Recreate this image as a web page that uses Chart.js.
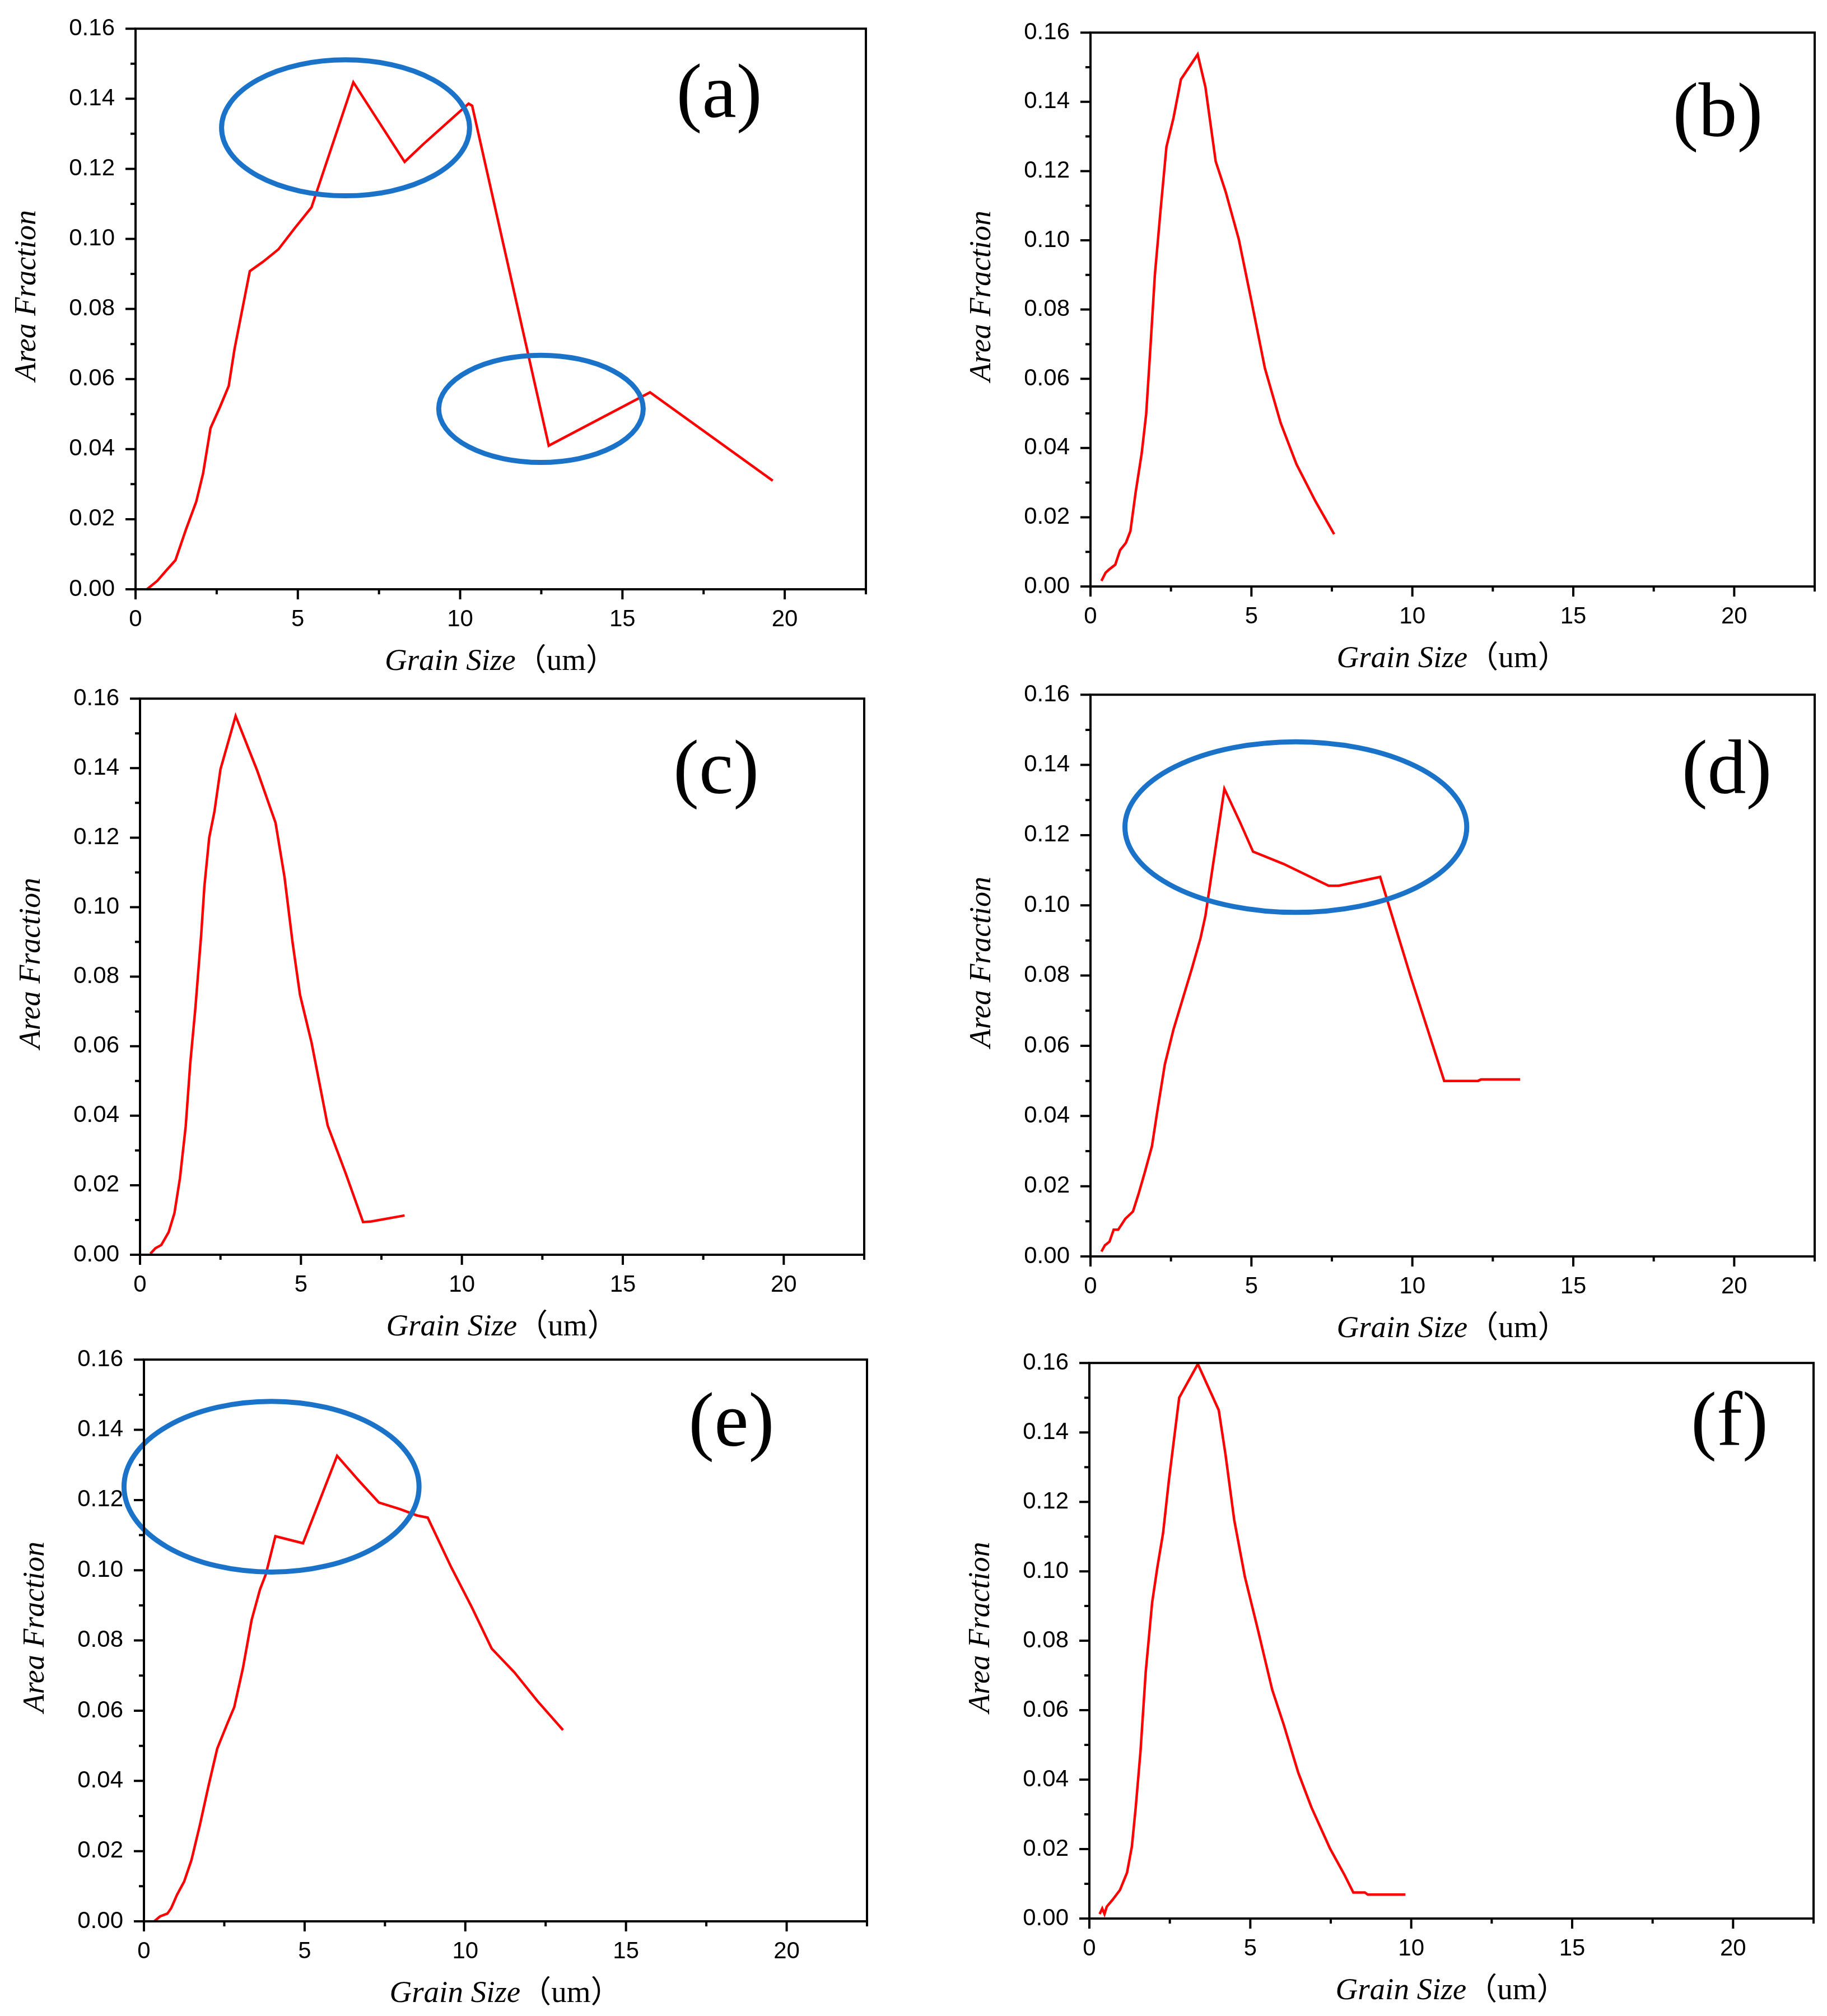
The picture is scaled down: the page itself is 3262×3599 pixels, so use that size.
<!DOCTYPE html>
<html>
<head>
<meta charset="utf-8">
<script src="https://cdn.jsdelivr.net/npm/chart.js@4.4.1/dist/chart.umd.min.js"></script>
<style>
    html, body { margin: 0; padding: 0; background: #fff; }
    body { width: 3262px; height: 3599px; position: relative; overflow: hidden; }
    .panel { position: absolute; }
</style>
</head>
<body>
<script>
// grain size (um) and area fraction
var aX = [0.35, 0.67, 0.93, 1.23, 1.55, 1.87, 2.08, 2.31, 2.6, 2.87, 3.05, 3.52, 3.93, 4.4, 4.9, 5.42, 6.71, 8.29, 8.86, 10.26, 10.37, 12.73, 15.85, 19.63];
var aY = [0, 0.0024, 0.0052, 0.0083, 0.017, 0.025, 0.033, 0.046, 0.052, 0.058, 0.0686, 0.0908, 0.0935, 0.097, 0.103, 0.109, 0.1447, 0.122, 0.127, 0.1386, 0.138, 0.041, 0.0562, 0.031];

var bX = [0.34, 0.47, 0.59, 0.77, 0.92, 1.1, 1.24, 1.4, 1.59, 1.73, 1.86, 2.0, 2.18, 2.36, 2.58, 2.81, 3.33, 3.57, 3.89, 4.2, 4.61, 5.0, 5.42, 5.91, 6.4, 6.99, 7.57];
var bY = [0.0016, 0.004, 0.005, 0.0063, 0.0105, 0.0126, 0.016, 0.027, 0.0384, 0.0498, 0.0687, 0.09, 0.109, 0.127, 0.1354, 0.1465, 0.1537, 0.1443, 0.1228, 0.114, 0.1002, 0.0825, 0.063, 0.0472, 0.0353, 0.0246, 0.0151];

var cX = [0.32, 0.48, 0.66, 0.89, 1.07, 1.24, 1.42, 1.56, 1.72, 1.9, 2.0, 2.15, 2.31, 2.5, 2.97, 3.64, 4.21, 4.49, 4.74, 4.97, 5.33, 5.83, 6.39, 6.93, 7.19, 8.22];
var cY = [0.0003, 0.0019, 0.0028, 0.0065, 0.012, 0.022, 0.037, 0.055, 0.071, 0.092, 0.106, 0.12, 0.1274, 0.1397, 0.155, 0.1393, 0.1243, 0.1086, 0.0898, 0.0748, 0.061, 0.0372, 0.0234, 0.0094, 0.0096, 0.0113];

var dX = [0.34, 0.45, 0.59, 0.72, 0.86, 1.08, 1.32, 1.5, 1.68, 1.91, 2.07, 2.31, 2.58, 2.85, 3.15, 3.42, 3.57, 4.16, 4.65, 5.05, 6.0, 7.4, 7.71, 9.0, 9.95, 10.99, 12.04, 12.13, 13.35];
var dY = [0.0014, 0.0032, 0.0042, 0.0076, 0.0076, 0.0107, 0.0128, 0.018, 0.0237, 0.0314, 0.041, 0.0547, 0.0647, 0.0729, 0.082, 0.0907, 0.097, 0.1332, 0.1236, 0.1153, 0.1118, 0.1056, 0.1056, 0.1081, 0.0796, 0.05, 0.05, 0.0504, 0.0504];

var eX = [0.32, 0.5, 0.73, 0.85, 1.03, 1.25, 1.48, 1.74, 2.01, 2.28, 2.58, 2.81, 3.08, 3.35, 3.61, 3.79, 4.09, 4.95, 6.01, 6.69, 7.31, 7.97, 8.5, 8.83, 9.57, 10.2, 10.82, 11.53, 12.24, 13.04];
var eY = [0, 0.0014, 0.0022, 0.0038, 0.0076, 0.0113, 0.0175, 0.0274, 0.0386, 0.0492, 0.056, 0.061, 0.0721, 0.0858, 0.0945, 0.0988, 0.1097, 0.1077, 0.1326, 0.1255, 0.1193, 0.1174, 0.1156, 0.115, 0.1007, 0.0895, 0.0777, 0.0709, 0.0628, 0.0545];

var fX = [0.32, 0.4, 0.47, 0.54, 0.72, 0.95, 1.17, 1.32, 1.44, 1.59, 1.75, 1.95, 2.11, 2.29, 2.47, 2.79, 3.37, 4.02, 4.23, 4.5, 4.83, 5.23, 5.68, 6.04, 6.49, 6.9, 7.48, 7.93, 8.2, 8.56, 8.65, 9.82];
var fY = [0.0013, 0.0029, 0.0013, 0.0034, 0.0054, 0.0082, 0.0132, 0.0207, 0.032, 0.0483, 0.0709, 0.091, 0.101, 0.111, 0.1261, 0.15, 0.1597, 0.1464, 0.1336, 0.1148, 0.0985, 0.0834, 0.0659, 0.0558, 0.042, 0.032, 0.0201, 0.0125, 0.0075, 0.0075, 0.0069, 0.0069];

// axis ticks
var xTicks = [0, 5, 10, 15, 20];
var xMinor = [2.5, 7.5, 12.5, 17.5, 22.5];
var yTicks = [0, 0.02, 0.04, 0.06, 0.08, 0.10, 0.12, 0.14, 0.16];
var yMinor = [0.01, 0.03, 0.05, 0.07, 0.09, 0.11, 0.13, 0.15];

var xTitle = 'Grain Size';
var xUnit = '（um）';
var yTitle = 'Area Fraction';

// plot boxes in page pixels: left, top, right, bottom
var panels = [
    { id: 'a', box: [242, 51, 1546, 1052], xs: aX, ys: aY, tag: [17.98, 0.1405],
      rings: [[6.47, 0.1317, 3.82, 0.0194], [12.49, 0.0515, 3.15, 0.0153]] },
    { id: 'b', box: [1947, 58, 3240, 1047], xs: bX, ys: bY, tag: [19.49, 0.136], rings: [] },
    { id: 'c', box: [250, 1247, 1543, 2240], xs: cX, ys: cY, tag: [17.9, 0.1386], rings: [] },
    { id: 'd', box: [1947, 1240, 3240, 2243], xs: dX, ys: dY, tag: [19.77, 0.1377],
      rings: [[6.38, 0.1223, 5.31, 0.0243]] },
    { id: 'e', box: [257, 2427, 1548, 3430], xs: eX, ys: eY, tag: [18.28, 0.1412],
      rings: [[3.97, 0.1238, 4.59, 0.0243]] },
    { id: 'f', box: [1945, 2433, 3238, 3425], xs: fX, ys: fY, tag: [19.89, 0.1421], rings: [] }
];

var PAD_L = 240, PAD_T = 30, PAD_R = 30, PAD_B = 190;
var sansFont = "'Liberation Sans', Arial, sans-serif";
var serifFont = "'Liberation Serif', 'Times New Roman', 'Noto Sans CJK SC', serif";

var decor = {
    id: 'decor',
    afterDraw: function (chart, args, opts) {
        var ctx = chart.ctx, ca = chart.chartArea;
        var sx = chart.scales.x, sy = chart.scales.y;
        ctx.save();

        // blue rings
        ctx.strokeStyle = '#1a73c8';
        ctx.lineWidth = 9;
        opts.rings.forEach(function (r) {
            var px = sx.getPixelForValue(r[0]), py = sy.getPixelForValue(r[1]);
            var rx = sx.getPixelForValue(r[0] + r[2]) - px;
            var ry = py - sy.getPixelForValue(r[1] + r[3]);
            ctx.beginPath();
            ctx.ellipse(px, py, rx, ry, 0, 0, Math.PI * 2);
            ctx.stroke();
        });

        // frame and ticks
        ctx.strokeStyle = '#000';
        ctx.lineWidth = 4;
        ctx.strokeRect(ca.left, ca.top, ca.right - ca.left, ca.bottom - ca.top);
        ctx.beginPath();
        xTicks.forEach(function (v) {
            var p = sx.getPixelForValue(v);
            ctx.moveTo(p, ca.bottom); ctx.lineTo(p, ca.bottom + 18);
        });
        xMinor.forEach(function (v) {
            var p = sx.getPixelForValue(v);
            ctx.moveTo(p, ca.bottom); ctx.lineTo(p, ca.bottom + 9);
        });
        yTicks.forEach(function (v) {
            var p = sy.getPixelForValue(v);
            ctx.moveTo(ca.left, p); ctx.lineTo(ca.left - 18, p);
        });
        yMinor.forEach(function (v) {
            var p = sy.getPixelForValue(v);
            ctx.moveTo(ca.left, p); ctx.lineTo(ca.left - 9, p);
        });
        ctx.stroke();

        // axis titles
        ctx.fillStyle = '#000';
        ctx.textBaseline = 'alphabetic';
        ctx.font = 'italic 55px ' + serifFont;
        var w1 = ctx.measureText(xTitle).width;
        ctx.font = '55px ' + serifFont;
        var w2 = ctx.measureText(xUnit).width;
        var x0 = (ca.left + ca.right) / 2 - (w1 + w2) / 2;
        ctx.textAlign = 'left';
        ctx.font = 'italic 55px ' + serifFont;
        ctx.fillText(xTitle, x0, ca.bottom + 144);
        ctx.font = '55px ' + serifFont;
        ctx.fillText(xUnit, x0 + w1, ca.bottom + 144);

        ctx.save();
        ctx.translate(ca.left - 193, (ca.top + ca.bottom) / 2 - 24);
        ctx.rotate(-Math.PI / 2);
        ctx.textAlign = 'center';
        ctx.textBaseline = 'middle';
        ctx.font = 'italic 54px ' + serifFont;
        ctx.fillText(yTitle, 0, 0);
        ctx.restore();

        // panel letter
        ctx.textAlign = 'center';
        ctx.textBaseline = 'middle';
        ctx.font = '138px ' + serifFont;
        ctx.fillText('(' + opts.id + ')', sx.getPixelForValue(opts.tag[0]), sy.getPixelForValue(opts.tag[1]));

        ctx.restore();
    }
};

function makeChart(p, top) {
    var w = p.box[2] - p.box[0] + PAD_L + PAD_R;
    var h = p.box[3] - p.box[1] + top + PAD_B;
    var div = document.createElement('div');
    div.className = 'panel';
    div.style.left = (p.box[0] - PAD_L) + 'px';
    div.style.top = (p.box[1] - top) + 'px';
    var cv = document.createElement('canvas');
    cv.width = w; cv.height = h;
    cv.style.width = w + 'px'; cv.style.height = h + 'px';
    div.appendChild(cv);
    document.body.appendChild(div);

    var pts = p.xs.map(function (x, i) { return { x: x, y: p.ys[i] }; });

    var chart = new Chart(cv.getContext('2d'), {
        type: 'line',
        data: {
            datasets: [{
                data: pts,
                borderColor: '#ff0000',
                borderWidth: 4.5,
                pointRadius: 0,
                tension: 0,
                fill: false
            }]
        },
        options: {
            responsive: false,
            maintainAspectRatio: false,
            animation: false,
            devicePixelRatio: 1,
            layout: { autoPadding: false, padding: { left: 0, top: PAD_T, right: PAD_R, bottom: 0 } },
            plugins: {
                legend: { display: false },
                tooltip: { enabled: false },
                decor: { id: p.id, tag: p.tag, rings: p.rings }
            },
            scales: {
                x: {
                    type: 'linear', min: 0, max: 22.5,
                    grid: { display: false, drawTicks: false },
                    border: { display: false },
                    afterBuildTicks: function (s) { s.ticks = xTicks.map(function (v) { return { value: v }; }); },
                    afterFit: function (s) { s.height = PAD_B; },
                    ticks: {
                        padding: 29, color: '#000', maxRotation: 0, autoSkip: false,
                        font: { family: sansFont, size: 42 },
                        callback: function (v) { return String(v); }
                    }
                },
                y: {
                    type: 'linear', min: 0, max: 0.16,
                    grid: { display: false, drawTicks: false },
                    border: { display: false },
                    afterBuildTicks: function (s) { s.ticks = yTicks.map(function (v) { return { value: v }; }); },
                    afterFit: function (s) { s.width = PAD_L; },
                    ticks: {
                        padding: 37, color: '#000', autoSkip: false,
                        font: { family: sansFont, size: 42 },
                        callback: function (v) { return v.toFixed(2); }
                    }
                }
            }
        },
        plugins: [decor]
    });
    return { chart: chart, div: div };
}

panels.forEach(function (p) {
    // the layout keeps its own space above the plot; measure it once and
    // rebuild so the plot area lands exactly on its box
    var made = makeChart(p, PAD_T);
    var top = made.chart.chartArea.top;
    if (Math.abs(top - PAD_T) >= 1) {
        made.chart.destroy();
        made.div.remove();
        makeChart(p, top);
    }
});
</script>
</body>
</html>
